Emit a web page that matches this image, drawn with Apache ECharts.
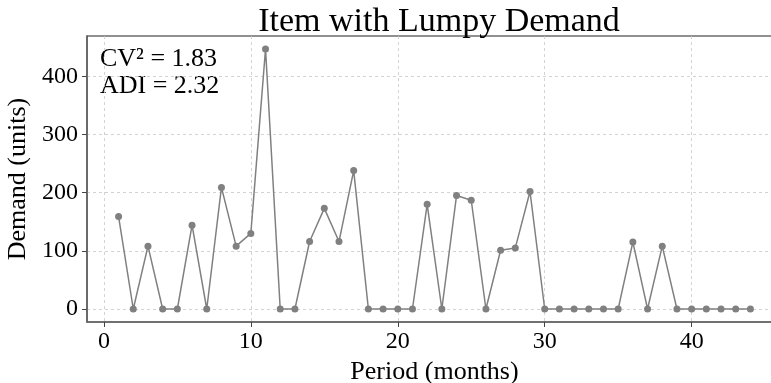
<!DOCTYPE html>
<html>
<head>
<meta charset="utf-8">
<script src="https://cdn.jsdelivr.net/npm/echarts@6/dist/echarts.min.js"></script>
<style>
  html, body { margin: 0; padding: 0; background: #fff; overflow: hidden; }
  #chart { width: 790px; height: 383px; }
</style>
</head>
<body>
<div id="chart"></div>
<script>
// demand per period (months 1..44)
const periods = [1, 2, 3, 4, 5, 6, 7, 8, 9, 10, 11, 12, 13, 14, 15, 16, 17, 18, 19, 20, 21, 22,
  23, 24, 25, 26, 27, 28, 29, 30, 31, 32, 33, 34, 35, 36, 37, 38, 39, 40, 41, 42, 43, 44]
const demand = [159, 0, 108, 0, 0, 144, 0, 209, 108, 130, 447, 0, 0, 116, 173, 116, 238, 0, 0, 0, 0, 180,
  0, 195, 187, 0, 101, 105, 202, 0, 0, 0, 0, 0, 0, 115, 0, 108, 0, 0, 0, 0, 0, 0]
const xTicks = [0, 10, 20, 30, 40]
const yTicks = [0, 100, 200, 300, 400]
const statsLines = ['CV² = 1.83', 'ADI = 2.32']

const serif = '"Liberation Serif", "DejaVu Serif", serif'
const gridLine = { show: true, lineStyle: { color: '#c8c8c8', type: [3, 3], width: 0.8 } }

// canvas is a bit wider than the window so the right edge of the plot gets cut off like in the reference
const chart = echarts.init(document.getElementById('chart'), null, { renderer: 'canvas' })

const option = {
  animation: false,
  backgroundColor: '#fff',
  title: {
    text: 'Item with Lumpy Demand',
    left: 434,
    textAlign: 'center',
    top: 0,
    textStyle: { fontFamily: serif, fontSize: 34, fontWeight: 'normal', color: '#000' }
  },
  grid: {
    left: 87,
    right: 8,
    top: 36,
    bottom: 61,
    containLabel: false,
    outerBoundsMode: 'none',
    show: true,
    borderColor: '#222',
    borderWidth: 1.2
  },
  xAxis: {
    type: 'value',
    min: -1.15,
    max: 46.15,
    name: 'Period (months)',
    nameLocation: 'middle',
    nameGap: 31,
    nameTextStyle: { fontFamily: serif, fontSize: 26, color: '#000' },
    axisLine: { show: true, onZero: false, lineStyle: { color: '#666', width: 1.5 } },
    axisTick: { show: true, length: 5, customValues: xTicks, lineStyle: { color: '#444' } },
    axisLabel: { customValues: xTicks, fontFamily: serif, fontSize: 24, color: '#000', margin: 8 },
    splitLine: gridLine
  },
  yAxis: {
    type: 'value',
    min: -22.35,
    max: 469.35,
    name: 'Demand (units)',
    nameLocation: 'middle',
    nameGap: 46,
    nameTextStyle: { fontFamily: serif, fontSize: 26, color: '#000' },
    axisLine: { show: true, onZero: false, lineStyle: { color: '#666', width: 1.5 } },
    axisTick: { show: true, length: 5, customValues: yTicks, lineStyle: { color: '#444' } },
    axisLabel: { customValues: yTicks, fontFamily: serif, fontSize: 24, color: '#000', margin: 9 },
    splitLine: gridLine
  },
  graphic: [{
    type: 'text',
    left: 100,
    top: 46,
    style: {
      text: statsLines.join('\n'),
      fontFamily: serif,
      fontSize: 26,
      lineHeight: 27,
      fill: '#000'
    }
  }],
  series: [{
    type: 'line',
    data: periods.map((p, i) => [p, demand[i]]),
    symbol: 'circle',
    symbolSize: 7,
    showAllSymbol: true,
    lineStyle: { color: '#808080', width: 1.5 },
    itemStyle: { color: '#808080' }
  }]
}

chart.setOption(option)
</script>
</body>
</html>
